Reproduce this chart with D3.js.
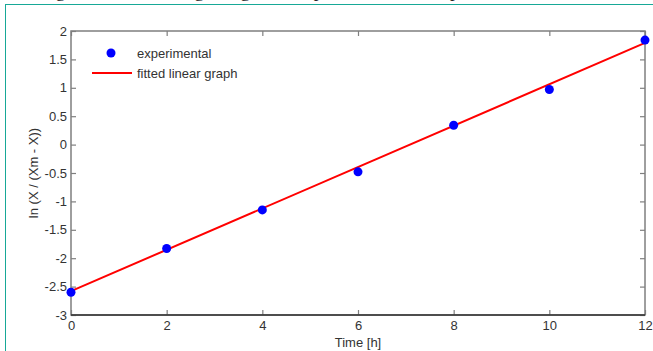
<!DOCTYPE html>
<html><head><meta charset="utf-8">
<script src="https://cdn.jsdelivr.net/npm/d3@7"></script>
<style>
html,body{margin:0;padding:0;background:#fff;overflow:hidden;}
svg{display:block;}
</style></head>
<body>
<script>
const timeH = [0, 2, 4, 6, 8, 10, 12];
const experimental = [-2.6, -1.83, -1.15, -0.48, 0.34, 0.97, 1.84];
const fittedX = [0, 12];
const fittedY = [-2.58, 1.79];
const xTicks = [0, 2, 4, 6, 8, 10, 12];
const yTicks = [-3, -2.5, -2, -1.5, -1, -0.5, 0, 0.5, 1, 1.5, 2];
const legendLabels = ["experimental", "fitted linear graph"];
const xLabel = "Time [h]";
const yLabel = "ln (X / (Xm - X))";

const W = 653, H = 351;
const m = {left: 71, top: 31, right: 645, bottom: 315};
const svg = d3.select("body").append("svg").attr("width", W).attr("height", H);

// page frame (teal) and cut-off caption line above
svg.append("rect").attr("x", 5.5).attr("y", 4.5).attr("width", 700).attr("height", 400)
  .attr("fill", "none").attr("stroke", "#17a897").attr("stroke-width", 1);
svg.append("text").attr("x", 40).attr("y", -3)
  .attr("font-family", "Liberation Serif, Times New Roman, serif").attr("font-size", 19)
  .attr("fill", "#222")
  .text("Fig. 3. Linearized logistic growth representation of experimental data [5, 8]");

const x = d3.scaleLinear().domain([0, 12]).range([m.left, m.right]);
const y = d3.scaleLinear().domain([-3, 2]).range([m.bottom, m.top]);

const font = "Liberation Sans, Arial, sans-serif";
const axisColor = "#7f7f7f";

// box
const g = svg.append("g");
g.append("rect").attr("x", m.left).attr("y", m.top)
  .attr("width", m.right - m.left).attr("height", m.bottom - m.top)
  .attr("fill", "none").attr("stroke", axisColor).attr("stroke-width", 1.5);

function styleAxis(sel){
  sel.selectAll(".domain").remove();
  sel.selectAll(".tick line").attr("stroke", axisColor).attr("stroke-width", 1.2);
  sel.selectAll(".tick text").attr("font-family", font).attr("font-size", 13).attr("fill", "#333");
}
const xb = g.append("g").attr("transform", `translate(0,${m.bottom})`)
  .call(d3.axisBottom(x).tickValues(xTicks).tickSizeInner(-5).tickSizeOuter(0).tickPadding(6).tickFormat(d3.format("d")));
styleAxis(xb);
const xt = g.append("g").attr("transform", `translate(0,${m.top})`)
  .call(d3.axisTop(x).tickValues(xTicks).tickSizeInner(-5).tickSizeOuter(0).tickFormat(""));
styleAxis(xt);
const yl = g.append("g").attr("transform", `translate(${m.left},0)`)
  .call(d3.axisLeft(y).tickValues(yTicks).tickSizeInner(-5).tickSizeOuter(0).tickPadding(4).tickFormat(d => String(d)));
styleAxis(yl);
const yr = g.append("g").attr("transform", `translate(${m.right},0)`)
  .call(d3.axisRight(y).tickValues(yTicks).tickSizeInner(-5).tickSizeOuter(0).tickFormat(""));
styleAxis(yr);
g.append("line").attr("x1", m.left).attr("x2", m.right).attr("y1", m.bottom).attr("y2", m.bottom)
  .attr("stroke", "#333").attr("stroke-width", 1.5);

// fitted line
svg.append("path")
  .attr("d", d3.line().x((d,i) => x(fittedX[i])).y(d => y(d))(fittedY))
  .attr("fill", "none").attr("stroke", "#ff0000").attr("stroke-width", 2);

// points
svg.selectAll("circle.pt").data(timeH).enter().append("circle").attr("class", "pt")
  .attr("cx", d => x(d)).attr("cy", (d,i) => y(experimental[i])).attr("r", 4.5)
  .attr("fill", "#0000ff");

// legend
svg.append("circle").attr("cx", 111).attr("cy", 53).attr("r", 4.5).attr("fill", "#0000ff");
svg.append("line").attr("x1", 92).attr("x2", 132).attr("y1", 73).attr("y2", 73)
  .attr("stroke", "#ff0000").attr("stroke-width", 2);
svg.append("text").attr("x", 137).attr("y", 58).attr("font-family", font).attr("font-size", 13)
  .attr("fill", "#333").text(legendLabels[0]);
svg.append("text").attr("x", 137).attr("y", 78).attr("font-family", font).attr("font-size", 13)
  .attr("fill", "#333").text(legendLabels[1]);

// axis labels
svg.append("text").attr("x", (m.left + m.right) / 2).attr("y", 347).attr("text-anchor", "middle")
  .attr("font-family", font).attr("font-size", 13).attr("fill", "#333").text(xLabel);
svg.append("text").attr("transform", `translate(38,${(m.top + m.bottom) / 2}) rotate(-90)`)
  .attr("text-anchor", "middle").attr("font-family", font).attr("font-size", 13)
  .attr("fill", "#333").text(yLabel);
</script>
</body></html>
